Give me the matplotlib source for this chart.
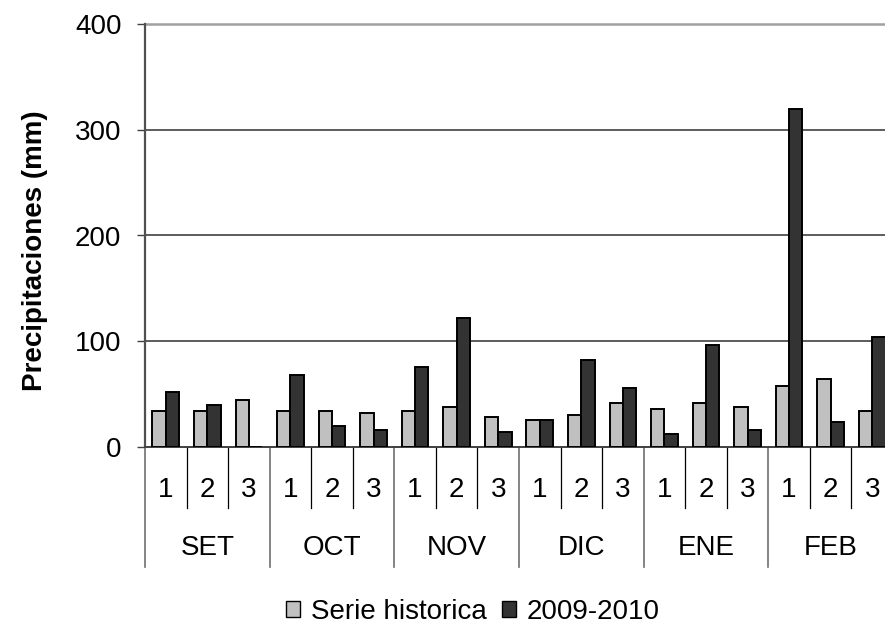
import numpy as np
import matplotlib
matplotlib.use('Agg')
import matplotlib.pyplot as plt
from matplotlib.patches import Patch

plt.rcParams['font.family'] = ['Liberation Sans', 'DejaVu Sans']

months = ['SET', 'OCT', 'NOV', 'DIC', 'ENE', 'FEB']
decades = ['1', '2', '3']
historica = [34, 34, 44, 34, 34, 32, 34, 38, 28, 26, 30, 42, 36, 42, 38, 58, 64, 34]
temporada = [52, 40, 0, 68, 20, 16, 76, 122, 14, 26, 82, 56, 12, 96, 16, 320, 24, 104]

n = len(historica)
x = np.arange(n)
w = 0.32

W, H = 885, 625
fig = plt.figure(figsize=(W/100, H/100), dpi=100)
# plot area runs a little past the right edge of the picture
ax = fig.add_axes([145/W, (H - 447)/H, 748/W, 423/H])

ax.bar(x - w/2, historica, w, color='#c0c0c0', edgecolor='black', linewidth=1.4, zorder=3)
ax.bar(x + w/2, temporada, w, color='#333333', edgecolor='black', linewidth=1.4, zorder=3)

ax.set_xlim(-0.5, n - 0.5)
ax.set_ylim(0, 400)
ax.set_yticks([0, 100, 200, 300, 400])
ax.tick_params(axis='y', labelsize=20, length=6, width=1, color='#404040', direction='out', pad=11)
for yv in [100, 200, 300]:
    ax.axhline(yv, color='#303030', linewidth=1.1, zorder=1)
ax.axhline(400, color='#a0a0a0', linewidth=1.8, zorder=1, clip_on=False)
ax.set_xticks([])
for s in ['top', 'right']:
    ax.spines[s].set_visible(False)
ax.spines['left'].set_color('#505050')
ax.spines['left'].set_linewidth(1.6)
ax.spines['bottom'].set_color('#404040')
ax.spines['bottom'].set_linewidth(1.4)

# two-level category axis
tr = ax.get_xaxis_transform()
inner = -(508 - 447) / 423
outer = -(567 - 447) / 423
for k in range(n + 1):
    edge = k - 0.5
    if k % 3 == 0:
        ax.plot([edge, edge], [0, outer], color='#707070', linewidth=1.2, transform=tr, clip_on=False)
    else:
        ax.plot([edge, edge], [0, inner], color='black', linewidth=0.9, transform=tr, clip_on=False)
for i in range(n):
    ax.text(i, -(490 - 447) / 423, decades[i % 3], transform=tr, ha='center', va='center', fontsize=20)
for m, name in enumerate(months):
    ax.text(3*m + 1, -(548 - 447) / 423, name, transform=tr, ha='center', va='center', fontsize=20)

fig.text(35/W, 1 - 251/H, 'Precipitaciones (mm)', rotation=90, ha='center', va='center',
         fontsize=20, fontweight='bold')

handles = [Patch(facecolor='#c0c0c0', edgecolor='black', label='Serie historica'),
           Patch(facecolor='#333333', edgecolor='black', label='2009-2010')]
fig.legend(handles=handles, loc='center', bbox_to_anchor=(473/W, 1 - 612/H), ncol=2,
           frameon=False, fontsize=20, handlelength=0.5, handleheight=0.5,
           handletextpad=0.4, columnspacing=0.55, borderpad=0)

fig.savefig('out.png', dpi=100)
